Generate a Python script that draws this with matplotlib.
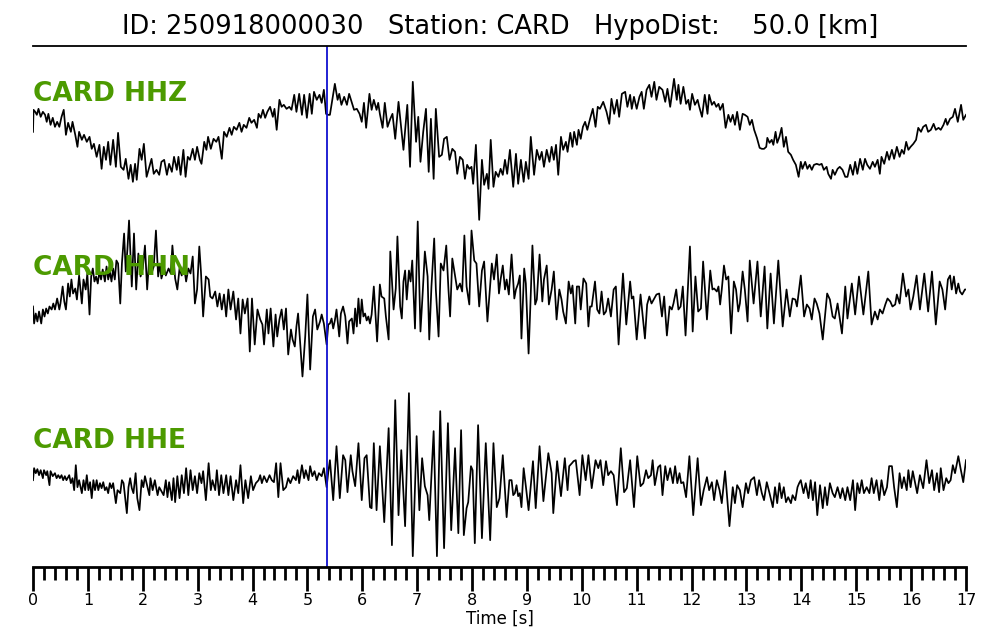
import matplotlib
matplotlib.use("Agg")
import matplotlib.pyplot as plt
from matplotlib.ticker import MultipleLocator

# ---------------- data (time [s], amplitude [counts, arbitrary]) ----------------
station = "CARD"
event_id = "250918000030"
hypo_dist_km = 50.0
pick_time = 5.36
channels = ["HHZ", "HHN", "HHE"]

hhz_points = [
(0.00,1),(0.01,23),(0.04,21),(0.07,18),(0.10,24),(0.14,16),(0.18,21),(0.22,18),(0.25,11),(0.28,19),
(0.32,8),(0.36,15),(0.40,6),(0.44,11),(0.48,6),(0.52,16),(0.56,23),(0.60,-2),(0.64,10),(0.69,1),
(0.72,11),(0.77,-2),(0.81,-14),(0.84,1),(0.89,-7),(0.93,-2),(0.98,-9),(1.03,-4),(1.07,-16),(1.11,-11),
(1.16,-24),(1.21,-12),(1.25,-36),(1.29,-14),(1.33,-27),(1.37,-9),(1.41,-32),(1.46,-7),(1.51,-34),(1.55,0),
(1.60,-34),(1.65,-37),(1.69,-26),(1.74,-46),(1.78,-32),(1.82,-49),(1.86,-31),(1.89,-47),(1.94,-16),(1.98,-27),
(2.02,-11),(2.07,-44),(2.12,-34),(2.16,-26),(2.20,-41),(2.25,-37),(2.30,-42),(2.34,-29),(2.39,-27),(2.44,-42),
(2.48,-31),(2.53,-39),(2.57,-24),(2.62,-37),(2.65,-24),(2.69,-42),(2.74,-17),(2.78,-44),(2.82,-24),(2.86,-27),
(2.91,-16),(2.95,-27),(2.99,-14),(3.04,-27),(3.07,-31),(3.12,-9),(3.16,-17),(3.19,-4),(3.24,-16),(3.29,-6),
(3.34,-9),(3.38,-4),(3.44,-26),(3.48,1),(3.53,-4),(3.58,5),(3.62,-2),(3.66,6),(3.71,3),(3.76,10),
(3.80,1),(3.84,8),(3.89,5),(3.94,15),(3.98,10),(4.03,13),(4.08,5),(4.11,19),(4.15,15),(4.19,23),
(4.23,15),(4.27,21),(4.32,26),(4.37,16),(4.40,24),(4.44,3),(4.49,33),(4.53,26),(4.57,28),(4.62,24),
(4.67,26),(4.71,23),(4.76,38),(4.80,21),(4.85,39),(4.90,18),(4.94,38),(4.99,15),(5.04,39),(5.08,19),
(5.12,41),(5.17,33),(5.22,38),(5.26,30),(5.30,43),(5.34,19),(5.38,18),
(5.41,18),(5.50,49),(5.55,33),(5.58,39),(5.62,28),(5.67,36),(5.72,28),(5.76,39),(5.81,30),(5.85,23),
(5.90,24),(5.95,19),(5.99,11),(6.03,30),(6.07,5),(6.13,39),(6.17,23),(6.21,33),(6.26,23),(6.29,30),
(6.32,19),(6.37,5),(6.41,30),(6.46,6),(6.51,14),(6.55,19),(6.60,-6),(6.66,31),(6.75,-17),(6.82,28),
(6.87,-34),(6.92,51),(6.98,-9),(7.02,16),(7.06,-29),(7.11,1),(7.16,24),(7.21,-39),(7.25,14),(7.30,-46),
(7.34,24),(7.40,-24),(7.45,-22),(7.49,-6),(7.54,-4),(7.59,-27),(7.64,-16),(7.69,-19),(7.73,-41),(7.78,-24),
(7.83,-27),(7.87,-46),(7.91,-32),(7.95,-36),(7.99,-34),(8.02,-51),(8.07,-12),(8.13,-87),(8.18,-27),(8.22,-52),
(8.27,-41),(8.30,-56),(8.34,-7),(8.39,-54),(8.43,-39),(8.48,-44),(8.52,-36),(8.56,-42),(8.60,-27),(8.64,-41),
(8.69,-17),(8.75,-54),(8.80,-21),(8.84,-51),(8.89,-27),(8.94,-49),(8.98,-29),(9.03,-46),(9.07,-4),(9.13,-42),
(9.18,-17),(9.23,-27),(9.27,-19),(9.31,-34),(9.36,-17),(9.41,-29),(9.45,-14),(9.49,-27),(9.53,-12),(9.57,-42),
(9.62,-4),(9.66,-17),(9.71,-9),(9.74,-19),(9.79,0),(9.83,-14),(9.86,1),(9.91,-12),(9.94,3),(9.98,-6),
(10.02,6),(10.06,11),(10.10,3),(10.15,14),(10.20,24),(10.25,6),(10.29,26),(10.33,24),(10.39,31),(10.45,21),
(10.50,9),(10.54,34),(10.59,19),(10.64,33),(10.68,16),(10.73,39),(10.79,41),(10.83,26),(10.88,38),(10.91,24),
(10.95,36),(11.00,24),(11.05,36),(11.09,41),(11.13,24),(11.18,43),(11.23,48),(11.27,36),(11.32,51),(11.36,33),
(11.41,46),(11.47,43),(11.52,31),(11.56,44),(11.61,26),(11.68,54),(11.73,33),(11.76,48),(11.80,29),(11.85,46),
(11.90,29),(11.94,33),(11.97,23),(12.01,39),(12.06,28),(12.11,33),(12.14,26),(12.19,16),(12.24,38),(12.29,19),
(12.32,38),(12.37,28),(12.41,31),(12.45,26),(12.49,29),(12.52,23),(12.57,29),(12.62,5),(12.67,18),(12.71,11),
(12.75,18),(12.79,8),(12.83,21),(12.88,3),(12.93,19),(12.97,18),(13.02,16),(13.06,8),(13.10,13),(13.14,3),
(13.19,-5),(13.24,-15),(13.28,-16),(13.32,-16),(13.36,-14),(13.38,-5),(13.42,-10),(13.46,-7),(13.49,-12),(13.53,1),
(13.56,-10),(13.60,-4),(13.64,5),(13.68,-14),(13.72,-4),(13.76,-19),(13.81,-22),(13.85,-27),(13.90,-32),(13.95,-44),
(13.99,-29),(14.02,-36),(14.07,-29),(14.11,-36),(14.15,-32),(14.19,-37),(14.23,-32),(14.28,-31),(14.33,-32),(14.37,-31),
(14.41,-37),(14.46,-34),(14.49,-41),(14.54,-46),(14.57,-37),(14.61,-42),(14.66,-36),(14.70,-34),(14.75,-37),(14.80,-44),
(14.84,-44),(14.89,-32),(14.94,-42),(14.98,-29),(15.02,-41),(15.07,-26),(15.12,-37),(15.16,-26),(15.20,-32),(15.25,-36),
(15.30,-29),(15.34,-34),(15.39,-27),(15.43,-41),(15.46,-24),(15.51,-31),(15.56,-19),(15.60,-27),(15.65,-17),(15.69,-26),
(15.74,-14),(15.79,-24),(15.83,-17),(15.87,-21),(15.91,-9),(15.95,-17),(15.99,-14),(16.04,-11),(16.09,-7),(16.13,5),
(16.18,1),(16.22,6),(16.27,8),(16.31,1),(16.36,3),(16.41,9),(16.45,3),(16.50,5),(16.54,3),(16.59,8),
(16.63,14),(16.66,8),(16.71,14),(16.76,16),(16.80,24),(16.85,11),(16.91,28),(16.95,13),(17.00,18),
]

hhn_points = [
(0.00,0),(0.02,-17),(0.05,-7),(0.08,-15),(0.11,-5),(0.15,-17),(0.18,-3),(0.21,-10),(0.24,-2),(0.27,-7),
(0.30,0),(0.34,-3),(0.37,3),(0.40,-3),(0.44,8),(0.48,-3),(0.50,3),(0.54,20),(0.57,5),(0.60,-3),
(0.64,23),(0.67,10),(0.70,27),(0.73,13),(0.77,18),(0.80,7),(0.84,31),(0.89,3),(0.92,27),(0.96,17),
(0.99,33),(1.03,-8),(1.06,30),(1.09,38),(1.12,25),(1.15,30),(1.18,23),(1.21,35),(1.24,27),(1.27,37),
(1.31,25),(1.34,40),(1.37,27),(1.40,35),(1.43,25),(1.46,38),(1.49,27),(1.52,46),(1.55,43),(1.59,3),
(1.62,43),(1.66,73),(1.69,35),(1.72,57),(1.75,86),(1.80,20),(1.84,73),(1.88,17),(1.92,53),(1.96,30),
(2.00,38),(2.04,61),(2.08,17),(2.12,50),(2.16,33),(2.20,40),(2.24,76),(2.28,30),(2.31,43),(2.34,28),
(2.39,38),(2.42,31),(2.47,38),(2.51,33),(2.54,61),(2.59,28),(2.63,17),(2.67,38),(2.71,31),(2.75,41),
(2.79,25),(2.83,38),(2.87,33),(2.91,50),(2.95,3),(2.99,17),(3.03,60),(3.06,35),(3.10,-10),(3.15,30),
(3.20,27),(3.23,10),(3.27,8),(3.32,15),(3.36,0),(3.40,13),(3.44,-3),(3.48,12),(3.52,-10),(3.56,17),
(3.60,-3),(3.65,15),(3.70,-13),(3.74,8),(3.78,-27),(3.82,7),(3.86,-7),(3.91,8),(3.95,-45),(3.99,8),
(4.04,-38),(4.09,-3),(4.14,-13),(4.18,-18),(4.21,-38),(4.26,-3),(4.29,-27),(4.33,-2),(4.38,-40),(4.42,-8),
(4.45,-30),(4.49,-13),(4.53,-3),(4.57,-23),(4.61,-2),(4.65,-48),(4.70,-23),(4.73,-33),(4.77,-40),(4.80,-20),
(4.83,-7),(4.86,-30),(4.91,-70),(4.96,-30),(5.00,12),(5.05,-63),(5.10,-10),(5.14,-3),(5.18,-23),(5.23,-15),
(5.26,-8),(5.30,-17),(5.35,-38),(5.38,-18),
(5.41,-17),(5.44,-12),(5.47,-22),(5.50,-14),(5.53,-3),(5.58,-30),(5.61,-7),(5.65,0),(5.69,-10),(5.73,-37),
(5.76,-15),(5.81,-12),(5.84,-27),(5.87,-2),(5.90,-20),(5.93,8),(5.96,-17),(5.99,7),(6.02,-10),(6.05,-7),
(6.08,-14),(6.11,-10),(6.14,-17),(6.17,-8),(6.21,20),(6.27,-35),(6.32,22),(6.35,10),(6.40,8),(6.43,-10),
(6.48,-33),(6.51,55),(6.57,-3),(6.61,18),(6.64,70),(6.69,0),(6.72,-12),(6.75,25),(6.78,36),(6.81,7),
(6.85,36),(6.88,25),(6.91,46),(6.96,-22),(7.01,85),(7.06,-25),(7.10,13),(7.14,55),(7.19,30),(7.22,-33),
(7.26,20),(7.31,68),(7.34,17),(7.39,-30),(7.43,43),(7.48,36),(7.53,61),(7.57,17),(7.60,-10),(7.64,48),
(7.69,31),(7.73,17),(7.78,23),(7.82,15),(7.86,71),(7.90,20),(7.95,2),(7.99,76),(8.04,46),(8.08,43),
(8.13,0),(8.18,36),(8.22,45),(8.28,-15),(8.36,43),(8.40,27),(8.45,52),(8.49,13),(8.52,27),(8.56,41),
(8.60,17),(8.63,27),(8.67,12),(8.72,52),(8.77,8),(8.80,17),(8.84,23),(8.87,31),(8.90,-32),(8.95,38),
(8.98,23),(9.03,-47),(9.06,-3),(9.10,61),(9.15,2),(9.18,7),(9.23,52),(9.28,5),(9.31,27),(9.36,41),
(9.40,2),(9.45,17),(9.49,35),(9.54,-13),(9.59,17),(9.63,7),(9.66,-5),(9.71,-17),(9.76,25),(9.80,13),
(9.83,21),(9.88,-17),(9.91,20),(9.95,20),(9.98,-3),(10.03,28),(10.08,23),(10.12,-20),(10.15,0),(10.18,0),
(10.24,25),(10.28,-3),(10.32,-7),(10.36,15),(10.40,-8),(10.44,-5),(10.48,8),(10.53,-10),(10.58,17),(10.62,20),
(10.67,-38),(10.75,33),(10.81,-18),(10.88,25),(10.91,8),(10.94,10),(11.00,-33),(11.07,12),(11.15,-32),(11.19,2),
(11.23,10),(11.27,3),(11.32,8),(11.36,12),(11.41,13),
(11.46,-10),(11.50,10),(11.55,-29),(11.60,0),(11.64,-3),(11.67,3),(11.72,17),(11.76,-3),(11.80,0),(11.84,20),
(11.89,-29),(11.93,15),(11.97,60),(12.02,-25),(12.07,30),(12.12,-5),(12.17,-2),(12.21,45),(12.28,-13),(12.34,36),
(12.38,17),(12.41,18),(12.46,15),(12.49,20),(12.52,2),(12.55,17),(12.59,41),(12.63,27),(12.67,30),(12.72,-27),
(12.77,25),(12.81,17),(12.85,-5),(12.88,3),(12.93,35),(12.97,17),(13.02,-15),(13.06,46),(13.13,3),(13.20,45),
(13.26,-10),(13.33,40),(13.38,-22),(13.44,33),(13.50,-17),(13.58,46),(13.66,-20),(13.73,17),(13.79,-10),(13.84,8),
(13.89,7),(13.92,0),(13.99,31),(14.05,-10),(14.10,2),(14.15,-2),(14.19,-13),(14.24,8),(14.28,3),(14.33,-7),
(14.39,-33),(14.47,13),(14.52,7),(14.57,-10),(14.61,-12),(14.66,3),(14.74,-27),(14.80,20),(14.84,-12),(14.92,23),
(14.98,-8),(15.05,30),(15.13,-8),(15.22,35),(15.28,-18),(15.34,-5),(15.39,-13),(15.43,-3),(15.48,-7),(15.53,2),
(15.57,8),(15.62,5),(15.66,0),(15.71,2),(15.74,12),(15.79,3),(15.85,33),(15.91,10),(15.95,17),(15.99,-3),
(16.04,10),(16.10,31),(16.16,-3),(16.24,33),(16.31,-5),(16.38,35),(16.45,-18),(16.52,25),(16.57,17),(16.62,-3),
(16.67,27),(16.71,31),(16.74,17),(16.78,30),(16.82,13),(16.86,23),(16.89,15),(16.93,12),(16.98,17),(17.00,17),
]

hhe_points = [
(0.00,0),(0.02,12),(0.05,7),(0.08,11),(0.11,5),(0.14,10),(0.18,2),(0.20,10),(0.24,5),(0.26,9),
(0.30,-5),(0.32,9),(0.36,4),(0.40,7),(0.43,2),(0.46,5),(0.49,2),(0.52,5),(0.55,0),(0.58,4),
(0.61,0),(0.66,5),(0.69,-3),(0.72,2),(0.75,-10),(0.78,15),(0.81,-7),(0.84,0),(0.89,-13),(0.92,0),
(0.95,-10),(0.98,5),(1.01,-10),(1.04,-2),(1.07,-18),(1.10,0),(1.13,-10),(1.16,0),(1.19,-10),(1.22,-3),
(1.25,-8),(1.28,-2),(1.31,-10),(1.34,-7),(1.37,-13),(1.40,-3),(1.43,-8),(1.46,-3),(1.51,-23),(1.54,-10),
(1.59,-13),(1.62,0),(1.65,-3),(1.71,-33),(1.74,-7),(1.77,2),(1.80,-8),(1.83,-13),(1.87,7),(1.90,-18),
(1.94,-30),(1.98,0),(2.01,-7),(2.04,4),(2.07,-3),(2.12,-15),(2.14,2),(2.18,-10),(2.22,0),(2.27,-15),
(2.30,-7),(2.33,-10),(2.38,-15),(2.42,0),(2.45,-17),(2.48,-2),(2.53,-20),(2.56,2),(2.59,-22),(2.63,4),
(2.67,-18),(2.71,5),(2.75,-13),(2.79,12),(2.83,-15),(2.87,10),(2.91,-10),(2.95,4),(2.99,-13),(3.03,7),
(3.07,-3),(3.10,9),(3.15,-20),(3.20,17),(3.24,-10),(3.27,0),(3.32,-10),(3.35,10),(3.39,-15),(3.43,5),
(3.47,-13),(3.52,5),(3.56,-15),(3.60,4),(3.65,-20),(3.70,0),(3.74,-13),(3.78,15),(3.83,-23),(3.87,0),
(3.92,-18),(3.97,4),(4.01,-10),(4.06,-3),(4.11,0),(4.14,5),(4.17,-3),(4.21,4),(4.26,-2),(4.31,5),
(4.35,0),(4.39,-2),(4.43,17),(4.47,-17),(4.51,17),(4.56,-10),(4.61,-7),(4.65,2),(4.69,-3),(4.74,4),
(4.79,0),(4.82,10),(4.85,-3),(4.90,15),(4.94,2),(4.97,10),(5.02,0),(5.05,14),(5.09,4),(5.13,9),
(5.17,0),(5.21,7),(5.26,4),(5.30,12),(5.35,-7),(5.38,8),
(5.41,20),(5.47,-20),(5.53,34),(5.59,-18),(5.65,25),(5.69,20),(5.73,-12),(5.79,25),(5.82,9),(5.87,-6),
(5.93,37),(5.99,-20),(6.04,22),(6.08,25),(6.14,-27),(6.17,-28),(6.21,37),(6.26,-30),(6.32,34),(6.40,-42),
(6.48,52),(6.54,-65),(6.60,80),(6.66,-35),(6.71,30),(6.78,-46),(6.85,87),(6.92,-76),(6.99,44),(7.04,-30),
(7.09,22),(7.14,-6),(7.19,-15),(7.22,-40),(7.30,49),(7.36,-76),(7.42,69),(7.49,-68),(7.56,57),(7.62,-50),
(7.69,32),(7.75,-53),(7.80,50),(7.85,-55),(7.90,-28),(7.93,-22),(7.98,14),(8.01,10),(8.05,-63),(8.11,55),
(8.18,-58),(8.25,37),(8.33,-60),(8.39,37),(8.45,-27),(8.50,-18),(8.56,25),(8.63,-37),(8.68,0),(8.72,0),
(8.75,-15),(8.78,-13),(8.81,-5),(8.84,-16),(8.87,-13),(8.90,-27),(8.94,12),(8.98,-6),(9.03,-30),(9.11,19),
(9.16,-28),(9.23,34),(9.30,-21),(9.39,27),(9.45,7),(9.48,-33),(9.55,19),(9.62,-16),(9.69,22),(9.74,-10),
(9.77,14),(9.82,17),(9.85,19),(9.89,20),(9.96,-15),(10.01,25),(10.07,0),(10.12,25),(10.18,-8),(10.25,20),
(10.30,12),(10.34,20),(10.39,-5),(10.44,19),(10.48,5),(10.53,9),(10.58,5),(10.64,-25),(10.71,32),(10.77,-12),
(10.82,-8),(10.88,20),(10.95,-27),(11.01,24),(11.07,-6),(11.12,-3),(11.17,10),(11.21,2),(11.26,5),(11.29,20),
(11.33,-5),(11.39,13),
(11.43,15),(11.47,-15),(11.52,14),(11.56,0),(11.61,12),(11.66,-3),(11.70,14),(11.74,-3),(11.78,7),(11.81,-3),
(11.85,-2),(11.90,-17),(11.96,24),(12.03,-35),(12.11,22),(12.17,-25),(12.22,-10),(12.28,3),(12.32,-10),(12.37,-2),
(12.41,-20),(12.46,0),(12.51,-10),(12.55,-23),(12.61,9),(12.69,-46),(12.75,-7),(12.79,-23),(12.83,-5),(12.88,-10),
(12.93,-27),(12.99,-3),(13.03,-13),(13.08,0),(13.14,3),(13.19,-15),(13.23,0),(13.28,-13),(13.32,-20),(13.37,-2),
(13.42,-13),(13.48,-27),(13.52,-7),(13.56,-23),(13.60,-3),(13.64,-18),(13.68,-7),(13.72,-22),(13.76,-17),(13.81,-23),
(13.84,-15),(13.89,-20),(13.93,-7),(13.96,-3),(13.99,0),(14.04,-13),(14.08,-3),(14.13,-18),(14.17,0),(14.21,-20),
(14.25,-2),(14.29,-35),(14.34,-5),(14.39,-28),(14.43,-7),(14.47,-25),(14.52,-3),(14.57,-13),(14.61,-17),(14.66,-7),
(14.71,-18),(14.75,-8),(14.80,-20),(14.84,-7),(14.89,-20),(14.94,0),(14.98,-30),(15.02,-3),(15.06,-13),(15.10,0),
(15.14,-13),(15.19,-7),(15.24,-13),(15.28,2),(15.32,-13),(15.37,0),(15.42,-20),(15.46,0),(15.51,-15),(15.56,-7),
(15.60,14),(15.65,14),(15.69,-7),(15.74,-27),(15.79,7),(15.83,-8),(15.87,3),(15.92,-10),(15.95,10),(15.99,-7),
(16.03,9),(16.07,-2),(16.11,-13),(16.16,5),(16.22,-8),(16.28,20),(16.33,-3),(16.38,10),(16.42,-10),(16.47,7),
(16.51,-12),(16.54,12),(16.59,-10),(16.64,2),(16.68,-3),(16.72,0),(16.76,15),(16.80,7),(16.86,24),(16.90,12),
(16.95,-2),(17.00,20),
]

# ---------------- figure ----------------
fig = plt.figure(figsize=(10, 6.4), dpi=100)
ax = fig.add_axes([0.033, 1 - 567 / 640, 0.933, (567 - 46) / 640])

slot = 521 / 3.0
offsets = [2.5 * slot, 1.5 * slot, 0.5 * slot]
traces = [hhz_points, hhn_points, hhe_points]

for pts, off, ch in zip(traces, offsets, channels):
    t = [p[0] for p in pts]
    a = [p[1] + off for p in pts]
    ax.plot(t, a, color="black", lw=1.25, solid_joinstyle="round")
    ax.text(0.0, off + slot / 2 - 55, f"{station} {ch}", color="#4C9A00",
            fontsize=19, fontweight="bold", ha="left", va="baseline")

ax.axvline(pick_time, color="#1010d0", lw=1.3)

ax.set_xlim(0, 17)
ax.set_ylim(0, 521)
ax.set_yticks([])
for s in ["left", "right"]:
    ax.spines[s].set_visible(False)
ax.spines["top"].set_linewidth(1.3)
ax.spines["bottom"].set_linewidth(2.0)

ax.xaxis.set_major_locator(MultipleLocator(1))
ax.xaxis.set_minor_locator(MultipleLocator(0.2))
ax.tick_params(axis="x", which="major", length=17, width=2.0, labelsize=11.5, pad=2)
ax.tick_params(axis="x", which="minor", length=9, width=2.0)
ax.set_xlabel("Time [s]", fontsize=12, labelpad=1)

fig.text(0.5, 1 - 27 / 640,
         f"ID: {event_id}   Station: {station}   HypoDist:    {hypo_dist_km:.1f} [km]",
         ha="center", va="center", fontsize=18.5)

fig.savefig("out.png", dpi=100)
